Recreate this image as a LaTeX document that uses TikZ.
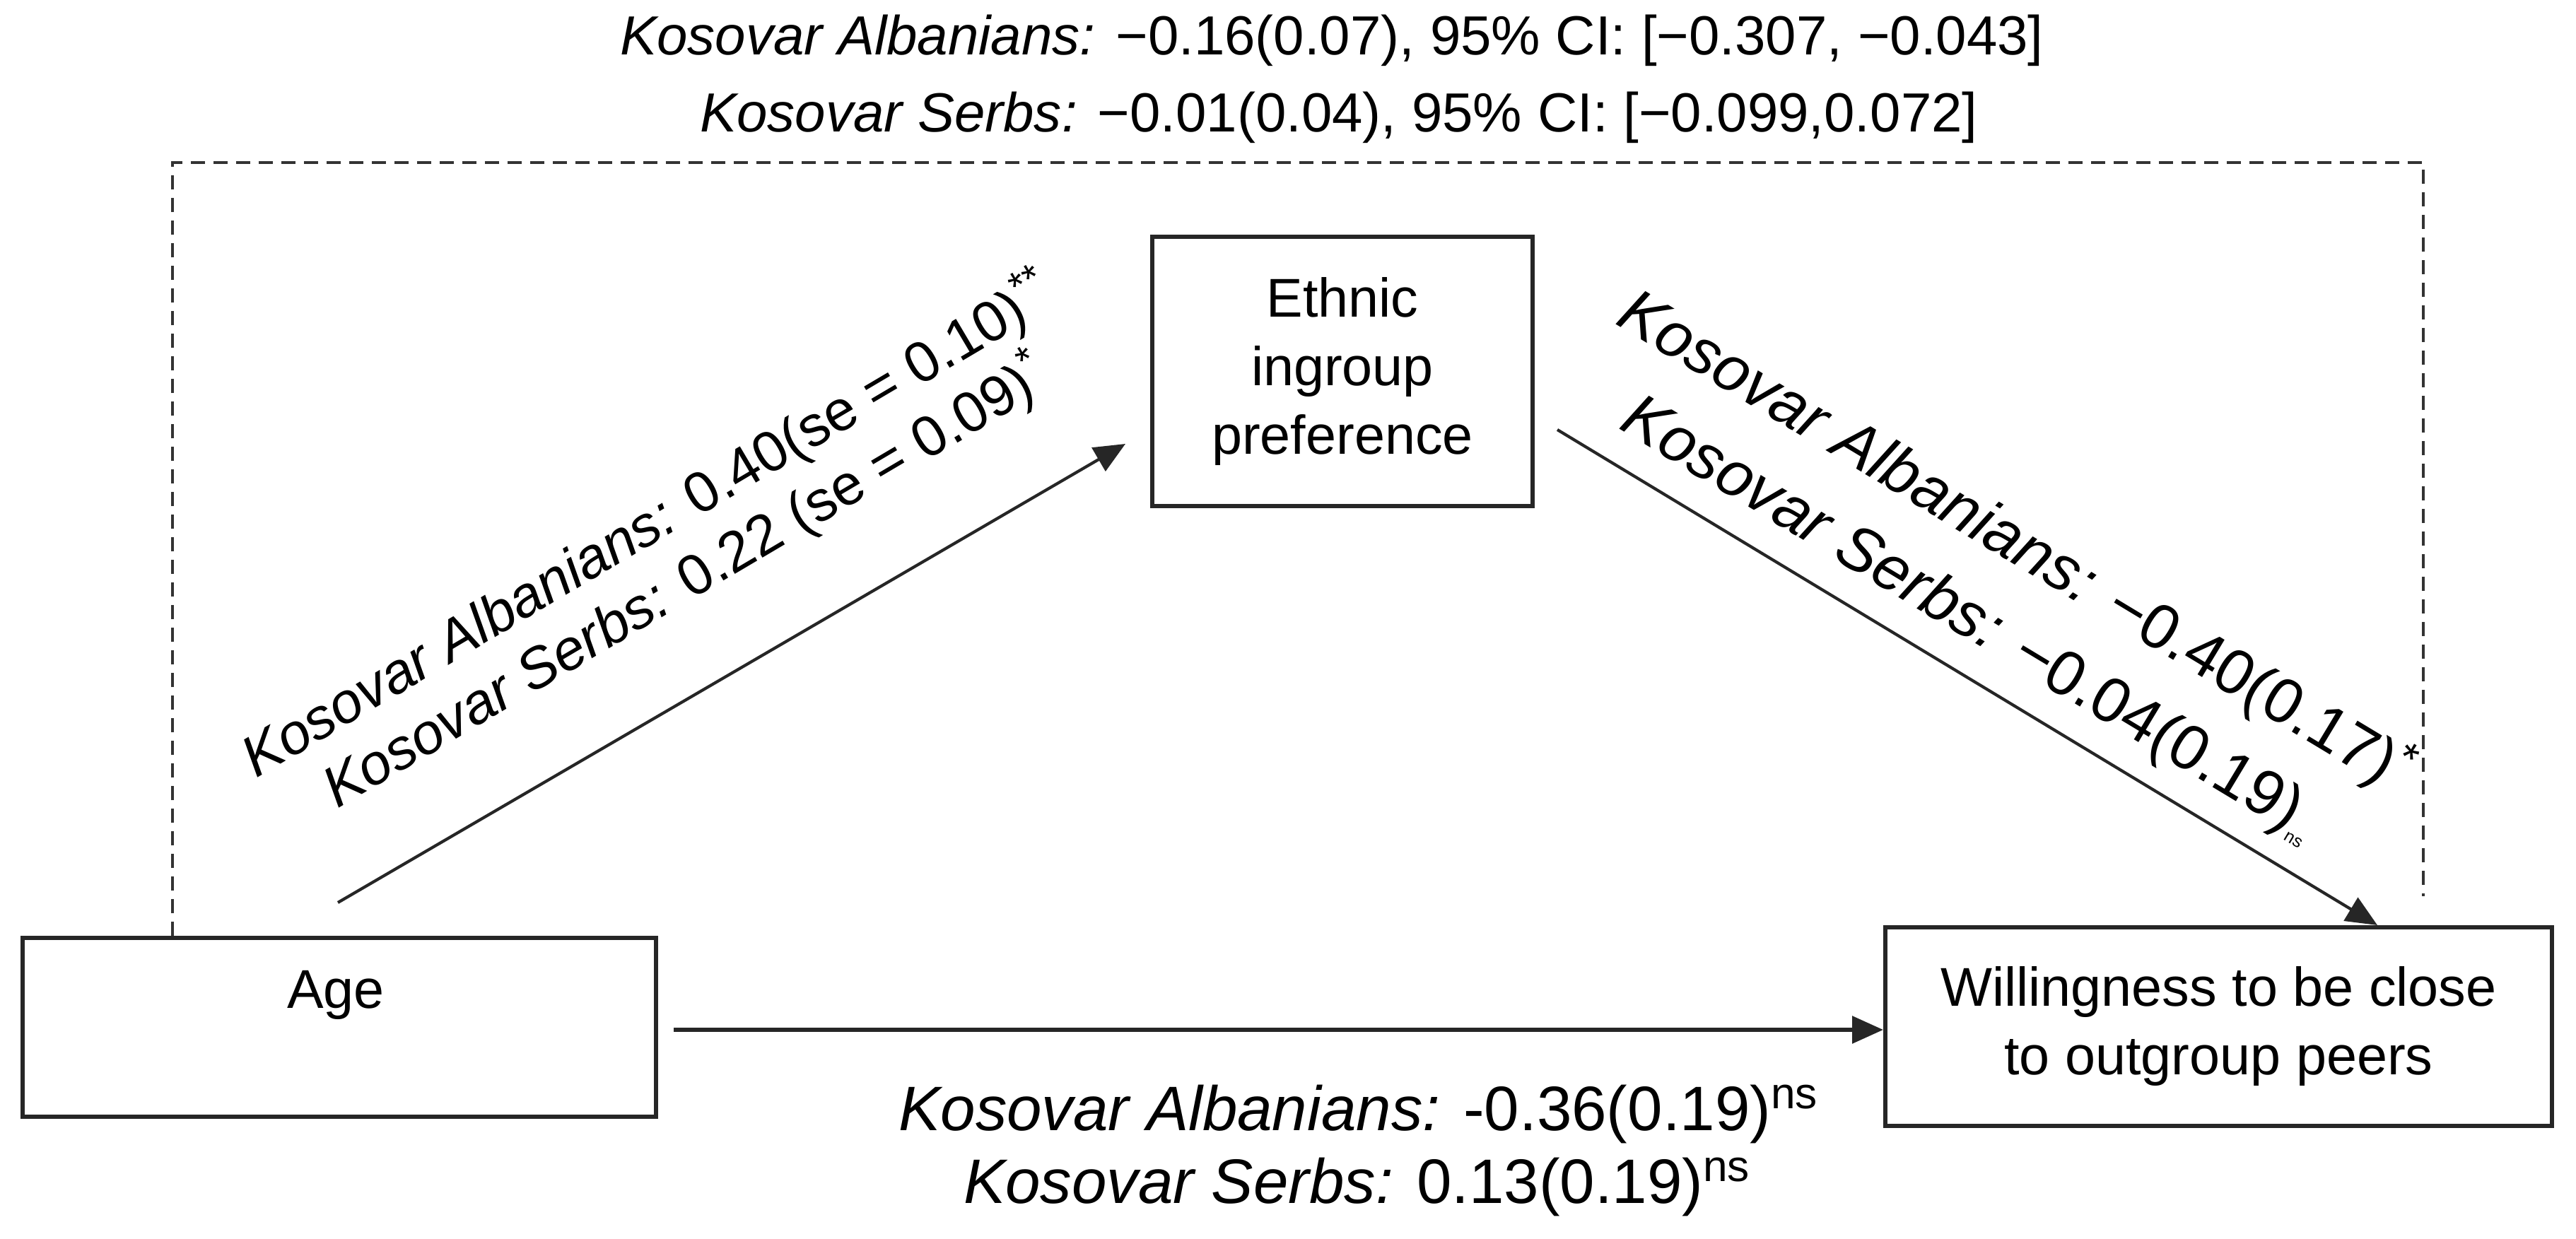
\documentclass[tikz,border=0pt]{standalone}
\usepackage{fontspec}
\setmainfont{Liberation Sans}
\usetikzlibrary{arrows.meta}
\begin{document}
\begin{tikzpicture}[
  x=1cm,y=1cm,
  box/.style={draw=black!85, line width=1.7pt, rectangle, inner sep=0pt, align=center,
    font=\fontsize{22}{27.6}\selectfont},
  txt/.style={inner sep=0pt, font=\fontsize{22}{27.6}\selectfont},
  toptxt/.style={inner sep=0pt, anchor=base, font=\fontsize{22.2}{28}\selectfont},
  bottxt/.style={inner sep=0pt, anchor=base, font=\fontsize{25.3}{30}\selectfont},
  ltxt/.style={inner sep=0pt, anchor=base, rotate=30.6, font=\fontsize{23}{28}\selectfont},
  rtxt/.style={inner sep=0pt, anchor=base, rotate=-31.1, font=\fontsize{25.5}{30}\selectfont},
  arr/.style={draw=black!85, line width=1.2pt, -{Triangle[length=0.44cm,width=0.38cm]}},
  dashline/.style={draw=black!80, line width=1.3pt, dash pattern=on 0.2cm off 0.12cm},
]
\useasboundingbox (0,0) rectangle (36.44,17.53);

% boxes
\node[box, minimum width=8.96cm, minimum height=2.53cm] (age) at (4.80,2.995) {};
\node[txt, anchor=base] (agetext) at (4.75,3.26) {Age};
\node[box, minimum width=5.38cm, minimum height=3.81cm] (eth) at (18.99,12.275) {Ethnic\\ingroup\\preference};
\node[box, minimum width=9.43cm, minimum height=2.81cm] (will) at (31.385,3.005) {Willingness to be close\\to outgroup peers};

% top texts
\node[toptxt] (top1) at (18.84,16.75) {\textit{Kosovar Albanians:} −0.16(0.07), 95\% CI: [−0.307, −0.043]};
\node[toptxt] (top2) at (18.94,15.66) {\textit{Kosovar Serbs:} −0.01(0.04), 95\% CI: [−0.099,0.072]};

% dashed indirect path
\coordinate (dtl) at (2.44,15.23);
\coordinate (dtr) at (34.28,15.23);
\coordinate (drb) at (34.28,4.85);
\draw[dashline] (age.north -| dtl) -- (dtl) -- (dtr) -- (drb);

% direct path
\coordinate (hs) at (9.53,2.96);
\draw[arr, line width=1.7pt] (hs) -- (hs -| will.west);

% a path
\coordinate (a1s) at (4.78,4.76);
\coordinate (a1e) at (15.92,11.25);
\draw[arr] (a1s) -- (a1e);

% b path
\coordinate (a2s) at (22.03,11.45);
\coordinate (a2x) at (33.63,0);
\draw[arr] (a2s) -- (a2x |- will.north);

% labels on a path
\node[ltxt] (la1) at (9.30,9.87) {\textit{Kosovar Albanians:} 0.40(se = 0.10)\textsuperscript{**}};
\node[ltxt] (la2) at (9.83,9.07) {\textit{Kosovar Serbs:} 0.22 (se = 0.09)\textsuperscript{*}};

% labels on b path
\node[rtxt] (lb1) at (28.37,9.62) {\textit{Kosovar Albanians:} −0.40(0.17)\textsuperscript{*}};
\node[rtxt] (lb2) at (27.73,8.55) {\textit{Kosovar Serbs:} −0.04(0.19)\raisebox{-0.25ex}{\scriptsize ns}};

% labels on direct path
\node[bottxt] (lc1) at (19.22,1.53) {\textit{Kosovar Albanians:} -0.36(0.19)\textsuperscript{ns}};
\node[bottxt] (lc2) at (19.20,0.50) {\textit{Kosovar Serbs:} 0.13(0.19)\textsuperscript{ns}};
\end{tikzpicture}
\end{document}
